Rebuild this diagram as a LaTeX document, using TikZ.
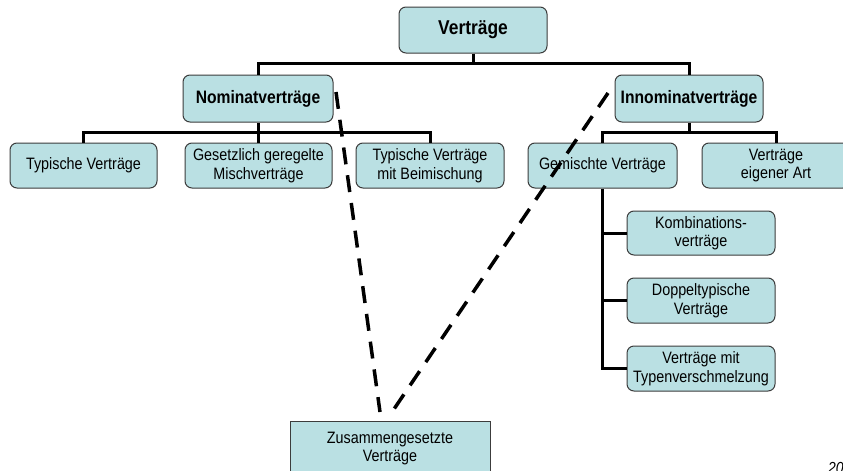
\documentclass[tikz,border=0pt]{standalone}
\usepackage{fontspec}
\setmainfont[FakeStretch=0.87]{Liberation Sans}
\definecolor{boxfill}{RGB}{186,224,227}
\definecolor{boxline}{RGB}{60,60,60}
\begin{document}
\begin{tikzpicture}[x=1pt,y=-1pt,
  box/.style={draw=boxline, line width=1pt, fill=boxfill, rounded corners=7pt,
    minimum width=148pt, minimum height=45pt, inner sep=0pt, align=center,
    font=\fontsize{16.5}{18.5}\selectfont},
  boldbox/.style={box, minimum height=47pt, font=\fontsize{18}{20}\selectfont\bfseries},
  zbox/.style={box, rounded corners=0pt, minimum width=200pt, minimum height=55pt},
  conn/.style={line width=3pt, black},
  dashline/.style={line width=3.5pt, black, dash pattern=on 17pt off 11pt}]
\clip (0,0) rectangle (843,471);
\fill[white] (0,0) rectangle (843,471);
% nodes
\node[boldbox, minimum height=46pt, font=\fontsize{20}{22}\selectfont\bfseries] (V) at (473,30) {Verträge};
\node[boldbox, minimum width=150pt] (N) at (258,98.5) {Nominatverträge};
\node[boldbox] (I) at (689,98.5) {Innominatverträge};
\node[box, minimum width=147pt] (T1) at (83.5,165.5) {Typische Verträge};
\node[box, minimum width=147pt] (T2) at (258.5,165.5) {Gesetzlich geregelte\\Mischverträge};
\node[box] (T3) at (430,165.5) {Typische Verträge\\mit Beimischung};
\node[box, minimum width=149pt] (G) at (602.5,165.5) {Gemischte Verträge};
\node[box] (E) at (776,165.5) {Verträge\\eigener Art};
\node[box, minimum height=44pt] (K) at (701,233) {Kombinations-\\verträge};
\node[box] (D) at (701,300.5) {Doppeltypische\\Verträge};
\node[box] (VT) at (701,368.5) {Verträge mit\\Typenverschmelzung};
\node[zbox] (Z) at (390,448.5) {Zusammengesetzte\\Verträge};
% connector levels
\coordinate (b1) at (0,63);
\coordinate (b2) at (0,132);
% connectors
\draw[conn] (V.south) -- (V.south |- b1) -| (N.north);
\draw[conn] (V.south |- b1) -| (I.north);
\draw[conn] (N.south) -- (N.south |- b2) -| (T1.north);
\draw[conn] (N.south |- b2) -| (T2.north);
\draw[conn] (N.south |- b2) -| (T3.north);
\draw[conn] (I.south) -- (I.south |- b2) -| (G.north);
\draw[conn] (I.south |- b2) -| (E.north);
\draw[conn] (G.south) -- (G.south |- VT.west) -- (VT.west);
\draw[conn] (G.south |- K.west) -- (K.west);
\draw[conn] (G.south |- D.west) -- (D.west);
% dashed lines
\coordinate (d1a) at (336,92);
\coordinate (d1b) at (380,412);
\coordinate (d2a) at (608,93);
\coordinate (d2b) at (392,412);
\draw[dashline] (d1a) -- (d1b);
\draw[dashline] (d2a) -- (d2b);
% page number (clipped as in the reference)
\node[anchor=north west, inner sep=0pt, font=\fontsize{16}{18}\selectfont\itshape] (pg) at (828,462) {20};
\end{tikzpicture}
\end{document}
